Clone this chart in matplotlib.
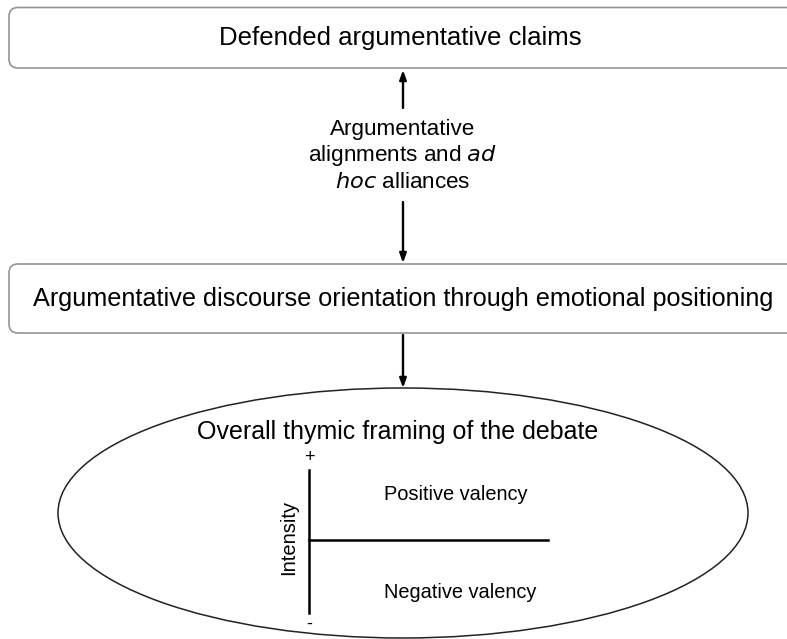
import matplotlib.pyplot as plt
from matplotlib.patches import FancyBboxPatch, Ellipse

plt.rcParams['font.family'] = ['Liberation Sans', 'DejaVu Sans']

# texts of the diagram
top_label = "Defended argumentative claims"
mid_label = "Argumentative discourse orientation through emotional positioning"
link_lines = ["Argumentative", "alignments and $\\it{ad}$", "$\\it{hoc}$ alliances"]
frame_title = "Overall thymic framing of the debate"
axis_label = "Intensity"
quadrant_labels = ["Positive valency", "Negative valency"]
axis_ends = ["+", "-"]

W, H = 787, 639
fig = plt.figure(figsize=(W / 100, H / 100), dpi=100)
ax = fig.add_axes([0, 0, 1, 1])
ax.set_xlim(0, W)
ax.set_ylim(H, 0)
ax.axis('off')

box_kw = dict(boxstyle="round,pad=0,rounding_size=9", fc="white", ec="#949494", lw=1.2)
# boxes run past the right edge like in the original
ax.add_patch(FancyBboxPatch((9, 7.5), 800, 60.5, **box_kw))
ax.add_patch(FancyBboxPatch((9, 264), 800, 69, **box_kw))
ax.text(400, 38, top_label, ha='center', va='center', fontsize=18.5)
ax.text(403, 299, mid_label, ha='center', va='center', fontsize=18.2)

arrow_kw = dict(arrowstyle="-|>,head_length=0.55,head_width=0.2", color="black", lw=1.7,
                shrinkA=0, shrinkB=0)
cx = 403
ax.annotate("", xy=(cx, 70), xytext=(cx, 108), arrowprops=arrow_kw)
ax.annotate("", xy=(cx, 263), xytext=(cx, 202), arrowprops=arrow_kw)
ax.annotate("", xy=(cx, 388), xytext=(cx, 335), arrowprops=arrow_kw)

for i, line in enumerate(link_lines):
    ax.text(cx, 130 + i * 26, line, ha='center', va='center', fontsize=16.2)

# ellipse frame
ax.add_patch(Ellipse((403, 513), 690, 250, fc="white", ec="#222222", lw=1.1))
ax.text(398, 432, frame_title, ha='center', va='center', fontsize=18)

# valency axes
ax.plot([309, 309], [470, 613], color="black", lw=1.8)
ax.plot([309, 548], [540, 540], color="black", lw=1.8)
ax.text(309, 457, axis_ends[0], ha='center', va='center', fontsize=13)
ax.text(309, 624, axis_ends[1], ha='center', va='center', fontsize=13)
ax.text(289, 537, axis_label, ha='center', va='center', fontsize=14.5, rotation=90)
ax.text(384, 495, quadrant_labels[0], ha='left', va='center', fontsize=14.4)
ax.text(384, 592, quadrant_labels[1], ha='left', va='center', fontsize=14.4)

fig.savefig("out.png", dpi=100)
